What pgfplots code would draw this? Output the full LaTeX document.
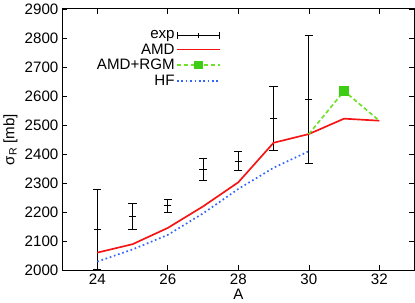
\documentclass[border=0pt]{standalone}
\usepackage{pgfplots}
\pgfplotsset{compat=1.18}
\usepackage{fontspec}
\setmainfont{Liberation Sans}
\definecolor{amdred}{RGB}{245,20,20}
\definecolor{rgmgreen}{RGB}{110,225,40}
\definecolor{rgmmark}{RGB}{60,205,20}
\definecolor{hfblue}{RGB}{50,100,255}
\begin{document}
\begin{tikzpicture}
\begin{axis}[
  scale only axis, width=337bp, height=250bp,
  xmin=23, xmax=33, ymin=2000, ymax=2900,
  xtick={24,26,...,32}, ytick={2000,2100,...,2900},
  tick align=inside, major tick length=5bp,
  tick style={black, line width=0.6bp},
  axis line style={line width=0.8bp},
  font=\fontsize{14.5}{16}\selectfont,
  /pgf/number format/assume math mode=true,
  /pgf/number format/1000 sep={},
  xlabel={A}, ylabel={σ\textsubscript{R} [mb]},
  xlabel style={yshift=3bp},
  ylabel style={yshift=0bp},
  legend plot pos=right,
  legend cell align=right,
  legend style={draw=none, fill=none, at={(axis cs:27.6,2838)}, anchor=north east,
    row sep=1bp, nodes={inner sep=1.2bp},
    /tikz/every even column/.append style={column sep=3bp}},
]
\addlegendimage{legend image code/.code={\path[use as bounding box, draw=none, fill=none] (-1bp,-4.5bp) rectangle (42bp,4.5bp);
     \draw[black, solid, line width=0.8bp] (0bp,0bp) -- (41bp,0bp)
     (0bp,-3.5bp) -- (0bp,3.5bp) (41bp,-3.5bp) -- (41bp,3.5bp) (20.5bp,-2.5bp) -- (20.5bp,2.5bp);}}
\addlegendentry{exp}
\addplot[black, line width=0.8bp, only marks, mark=-, mark size=3.5bp,
  mark options={line width=0.8bp}, forget plot,
  error bars/.cd, y dir=both, y explicit,
  error bar style={line width=0.8bp},
  error mark options={rotate=90, mark size=4bp, line width=0.8bp}]
  table[x=A, y=s, y error=e] {
A s e
24 2141 139
25 2186 45
26 2222 21
27 2347 39
28 2376 32
29 2523 109
30 2589 220
};
\addplot[amdred, line width=1.6bp, mark=none,
  legend image code/.code={\path[use as bounding box, draw=none, fill=none] (-1bp,-4.5bp) rectangle (42bp,4.5bp);
    \draw[amdred, solid, line width=1.6bp] (0bp,0bp) -- (41bp,0bp);}] table {
24 2061
25 2090
26 2146
27 2220
28 2303
29 2439
30 2469
31 2522
32 2515
};
\addlegendentry{AMD}
\addplot[rgmgreen, line width=1.6bp, dash pattern=on 4bp off 2.5bp,
  mark=square*, mark indices={2}, mark size=4bp,
  mark options={solid, fill=rgmmark, draw=rgmmark},
  legend image code/.code={\path[use as bounding box, draw=none, fill=none] (-1bp,-4.5bp) rectangle (42bp,4.5bp);
    \draw[rgmgreen, line width=1.6bp, dash pattern=on 4bp off 2.5bp] (0bp,0bp) -- (41bp,0bp);
    \fill[rgmmark, solid, draw=none] (16.5bp,-4bp) -- (24.5bp,-4bp) -- (24.5bp,4bp) -- (16.5bp,4bp) -- cycle;}] table {
30 2469
31 2617
32 2515
};
\addlegendentry{AMD+RGM}
\addplot[hfblue, line width=1.6bp, dash pattern=on 1.6bp off 2.6bp, mark=none,
  legend image code/.code={\path[use as bounding box, draw=none, fill=none] (-1bp,-4.5bp) rectangle (42bp,4.5bp);
    \draw[hfblue, line width=1.6bp, dash pattern=on 1.6bp off 2.6bp] (0bp,0bp) -- (41bp,0bp);}] table {
24 2030
25 2072
26 2122
27 2196
28 2280
29 2353
30 2410
};
\addlegendentry{HF}
\end{axis}
\end{tikzpicture}
\end{document}
